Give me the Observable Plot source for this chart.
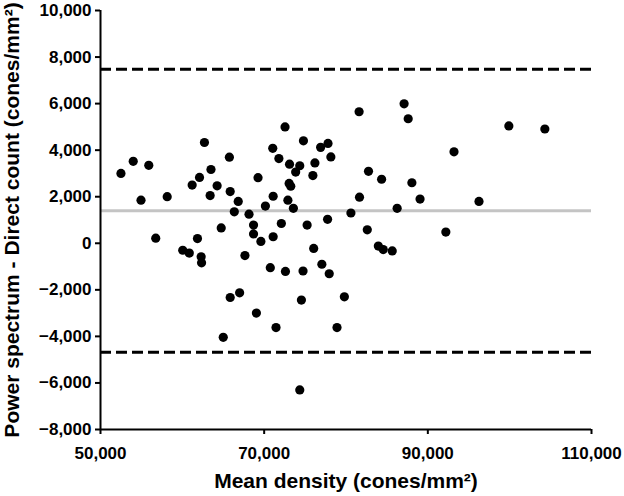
<!DOCTYPE html>
<html>
<head>
<meta charset="utf-8">
<script src="https://cdn.jsdelivr.net/npm/d3@7"></script>
<script src="https://cdn.jsdelivr.net/npm/@observablehq/plot@0.6"></script>
<style>
  html, body { margin: 0; padding: 0; background: #fff; }
  #chart { width: 624px; height: 496px; }
</style>
</head>
<body>
<div id="chart"></div>
<script>
// Mean density (cones/mm²)
const meanDensity = [
  52500, 54000, 55900, 54950, 56750, 58150, 60050, 60850, 61200, 61850,
  62100, 62300, 62350, 62700, 63400, 63500, 64250, 64750, 65000, 65750,
  65850, 65850, 66350, 66830, 67000, 67650, 68150, 68700, 68700, 69050,
  69250, 69600, 70150, 70750, 71050, 71100, 71100, 71450, 71800, 72100,
  72550, 72600, 72900, 73050, 73100, 73250, 73570, 73850, 74350, 74350,
  74550, 74750, 74800, 75250, 75950, 76050, 76200, 76900, 77050, 77800,
  77750, 77950, 78150, 78900, 79800, 80600, 81600, 81650, 82600, 82750,
  83950, 84350, 84550, 85650, 86250, 87100, 87600, 88050, 89050, 92200,
  93200, 96250, 99900, 104300
];
// Power spectrum - Direct count (cones/mm²)
const difference = [
  3000, 3520, 3350, 1850, 220, 2000, -300, -420, 2500, 200,
  2830, -580, -840, 4330, 2050, 3170, 2470, 660, -4040, 3700,
  2220, -2330, 1350, 1800, -2130, -530, 1250, 780, 400, -3000,
  2820, 80, 1600, -1050, 4080, 2020, 280, -3620, 3640, 850,
  5000, -1210, 1850, 2570, 3400, 2450, 1500, 3060, 3330, -6300,
  -2440, -1190, 4400, 780, 2910, -220, 3450, 4120, -900, 4290,
  1030, -1310, 3710, -3620, -2300, 1300, 5650, 1980, 580, 3090,
  -120, 2750, -270, -330, 1500, 5990, 5350, 2600, 1900, 480,
  3930, 1800, 5040, 4910
];
const meanDifference = [1400];
const limitsOfAgreement = [7480, -4680];
const xTicks = [50000, 70000, 90000, 110000];
const yTicks = [-8000, -6000, -4000, -2000, 0, 2000, 4000, 6000, 8000, 10000];
const xTitle = ["Mean density (cones/mm²)"];
const yTitle = ["Power spectrum - Direct count (cones/mm²)"];

const points = meanDensity.map((x, i) => ({x, y: difference[i]}));
const fmt = d3.format(",");

const chart = Plot.plot({
  width: 624,
  height: 496,
  marginLeft: 100,
  marginRight: 33,
  marginTop: 10,
  marginBottom: 67,
  style: {fontFamily: "'Liberation Sans', Arial, sans-serif", fontSize: "17px", fontWeight: "bold", color: "#000", background: "#fff", overflow: "visible"},
  x: {domain: [50000, 110000]},
  y: {domain: [-8000, 10000]},
  marks: [
    Plot.ruleY(meanDifference, {stroke: "#c4c4c4", strokeWidth: 3}),
    Plot.ruleY(limitsOfAgreement, {stroke: "#000", strokeWidth: 3, strokeDasharray: "11,5"}),
    Plot.dot(points, {x: "x", y: "y", r: 4.6, fill: "#000", stroke: "none"}),
    Plot.ruleX([50000], {stroke: "#000", strokeWidth: 2}),
    Plot.ruleY([-8000], {stroke: "#000", strokeWidth: 2}),
    Plot.axisX({ticks: xTicks, tickFormat: fmt, tickSize: 5, tickPadding: 12, strokeWidth: 2, label: null, fontSize: 17, fontWeight: "bold"}),
    Plot.axisY({ticks: yTicks, tickFormat: fmt, tickSize: 5, tickPadding: 4, strokeWidth: 2, label: null, fontSize: 17, fontWeight: "bold"}),
    Plot.text(xTitle, {frameAnchor: "bottom", dy: 58, fontSize: 21, fontWeight: "bold", fill: "#000"}),
    Plot.text(yTitle, {frameAnchor: "left", dx: -88, rotate: -90, textAnchor: "middle", fontSize: 21, fontWeight: "bold", fill: "#000"})
  ]
});
document.getElementById("chart").appendChild(chart);
</script>
</body>
</html>
